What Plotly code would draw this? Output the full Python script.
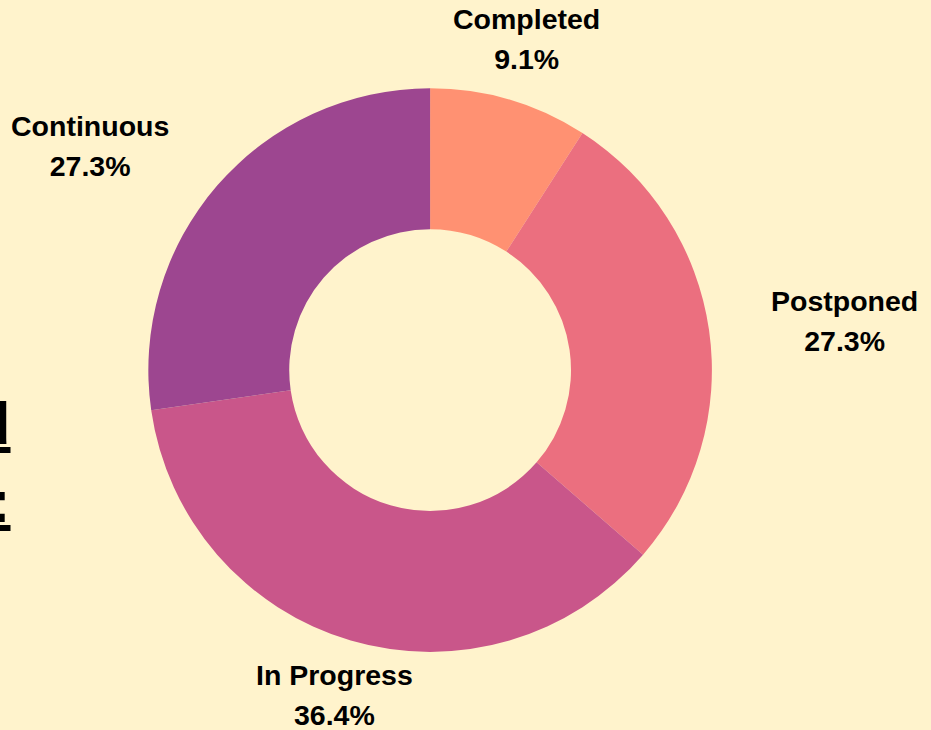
import math
import plotly.graph_objects as go

# Project status breakdown (number of projects)
statuses = ['Completed', 'Postponed', 'In Progress', 'Continuous']
counts = [1, 3, 4, 3]
slice_colors = ['#FF9172', '#EB6F7F', '#C9568A', '#9D4690']

W, H = 931, 730
dom_x = [0.159, 0.765]
dom_y = [0.107, 0.879]
# base size 31 sets the line spacing (~40px), glyphs drawn at 28.5px
label_font = dict(family='Liberation Sans, Arial, sans-serif', size=31, color='black')

fig = go.Figure()

fig.add_trace(go.Pie(
    labels=statuses,
    values=counts,
    hole=0.5,
    sort=False,
    direction='clockwise',
    rotation=0,
    marker=dict(colors=slice_colors, line=dict(width=0)),
    textinfo='none',
    showlegend=False,
    domain=dict(x=dom_x, y=dom_y),
))

# outside labels, placed along each slice's middle angle
cx = (dom_x[0] + dom_x[1]) / 2 * W
cy = (dom_y[0] + dom_y[1]) / 2 * H
R = min((dom_x[1] - dom_x[0]) * W, (dom_y[1] - dom_y[0]) * H) / 2
total = sum(counts)
cum = 0
for lab, v in zip(statuses, counts):
    mid = (cum + v / 2) / total * 2 * math.pi
    cum += v
    s, c = math.sin(mid), math.cos(mid)
    if abs(s) > 0.7:
        rx, ry = 1.215 * R, 1.215 * R
        xa, ya = ('left' if s > 0 else 'right'), 'middle'
    elif c > 0:
        rx, ry = 1.21 * R, 1.085 * R
        xa, ya = 'center', 'bottom'
    else:
        rx, ry = 1.21 * R, 1.06 * R
        xa, ya = 'center', 'top'
    span = '<span style="font-size:28.5px"><b>{}</b></span>'
    fig.add_annotation(
        text=span.format(lab) + '<br>' + span.format(f'{v / total * 100:.1f}%'),
        xref='paper', yref='paper',
        x=(cx + rx * s) / W, y=(cy + ry * c) / H,
        xanchor=xa, yanchor=ya,
        showarrow=False,
        font=label_font,
    )

# side title, mostly cut off by the left edge of the canvas
fig.add_annotation(
    text='<b><u>Project Status Planned</u></b><br><b><u>Overview:</u></b>',
    xref='paper', yref='paper',
    x=0.0135, y=0.366,
    xanchor='right', yanchor='middle',
    align='right',
    showarrow=False,
    font=dict(family='Liberation Sans, Arial, sans-serif', size=60, color='black'),
)

fig.update_layout(
    width=W,
    height=H,
    margin=dict(l=0, r=0, t=0, b=0),
    paper_bgcolor='#FFF3CC',
    plot_bgcolor='#FFF3CC',
)

fig.write_html("out.html", config={'displayModeBar': False},
               post_script="document.body.style.margin='0';")
